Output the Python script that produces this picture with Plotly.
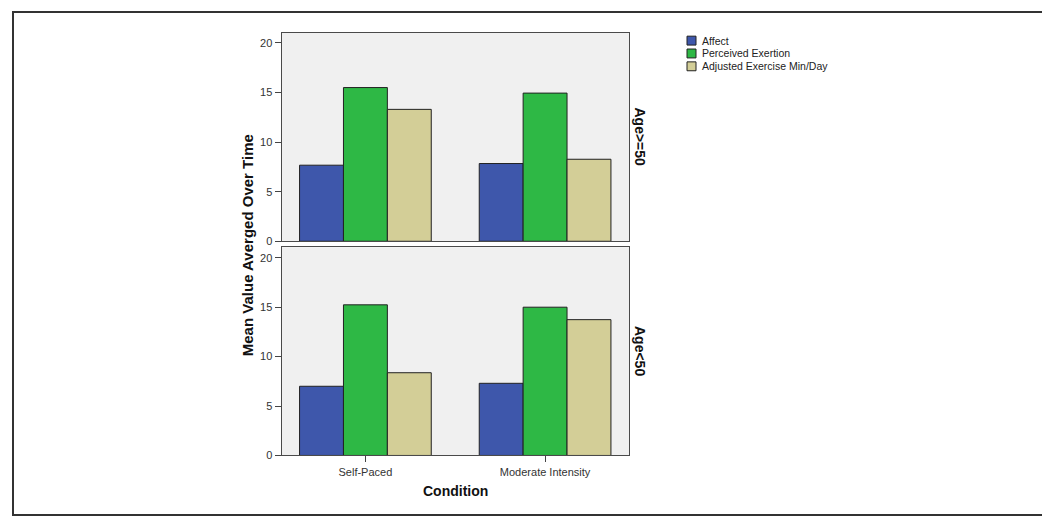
import plotly.graph_objects as go

W, H = 1050, 518

conditions = ["Self-Paced", "Moderate Intensity"]
series_names = ["Affect", "Perceived Exertion", "Adjusted Exercise Min/Day"]
facet_labels = ["Age>=50", "Age<50"]

# values per facet (rows) -> per series
affect_age_ge50 = [7.67, 7.84]
exertion_age_ge50 = [15.5, 14.94]
minutes_age_ge50 = [13.3, 8.27]

affect_age_lt50 = [7.0, 7.3]
exertion_age_lt50 = [15.24, 15.0]
minutes_age_lt50 = [8.37, 13.74]

y_ticks = [0, 5, 10, 15, 20]

colors = ["#3e57ab", "#2eb845", "#d3ce97"]

def px_x(p):
    return p / W

def px_y(p):
    return 1 - p / H

fig = go.Figure()

facets = [
    [affect_age_ge50, exertion_age_ge50, minutes_age_ge50],
    [affect_age_lt50, exertion_age_lt50, minutes_age_lt50],
]
axes = [("x", "y"), ("x2", "y2")]
for fi, vals in enumerate(facets):
    xa, ya = axes[fi]
    for si, name in enumerate(series_names):
        fig.add_trace(go.Bar(
            x=conditions, y=vals[si], name=name,
            marker=dict(color=colors[si], line=dict(color="#222222", width=1)),
            xaxis=xa, yaxis=ya, showlegend=False,
            offsetgroup=str(si),
        ))

x_dom = [px_x(273.5), px_x(621)]
axis_common = dict(
    showline=True, linecolor="#4a4a4a", linewidth=1, mirror=True,
    showgrid=False, zeroline=False,
    ticks="outside", ticklen=6, tickcolor="#444444",
    tickfont=dict(family="Liberation Sans, Arial", size=11, color="#333333"),
)

fig.update_layout(
    width=W, height=H,
    margin=dict(l=0, r=0, t=0, b=0),
    paper_bgcolor="white",
    plot_bgcolor="#f0f0f0",
    barmode="group", bargap=0.267, bargroupgap=0,
    font=dict(family="Liberation Sans, Arial", color="#222222"),
    xaxis=dict(domain=x_dom, anchor="y", range=[-0.467, 1.467],
               showticklabels=False, **{k: v for k, v in axis_common.items() if k not in ("ticks",)}, ticks=""),
    yaxis=dict(domain=[px_y(236), px_y(25)], anchor="x", range=[0, 21.03],
               tickvals=y_ticks, **axis_common),
    xaxis2=dict(domain=x_dom, anchor="y2", range=[-0.467, 1.467], **axis_common),
    yaxis2=dict(domain=[px_y(452.7), px_y(242)], anchor="x2", range=[0, 21.07],
                tickvals=y_ticks, **axis_common),
)

annotations = [
    dict(text="<b>Mean Value Averged Over Time</b>", x=px_x(239), y=px_y(240),
         xref="paper", yref="paper", textangle=-90, showarrow=False,
         font=dict(size=15, color="#111111"), xanchor="center", yanchor="middle"),
    dict(text="<b>Condition</b>", x=px_x(447), y=px_y(489),
         xref="paper", yref="paper", showarrow=False,
         font=dict(size=14, color="#111111"), xanchor="center", yanchor="middle"),
    dict(text="<b>" + facet_labels[0] + "</b>", x=px_x(632), y=px_y(130),
         xref="paper", yref="paper", textangle=90, showarrow=False,
         font=dict(size=14, color="#111111"), xanchor="center", yanchor="middle"),
    dict(text="<b>" + facet_labels[1] + "</b>", x=px_x(632), y=px_y(347),
         xref="paper", yref="paper", textangle=90, showarrow=False,
         font=dict(size=14, color="#111111"), xanchor="center", yanchor="middle"),
]

shapes = [
    dict(type="rect", xref="paper", yref="paper",
         x0=px_x(5), x1=px_x(1044), y0=px_y(513), y1=px_y(4),
         line=dict(color="#333333", width=2), fillcolor="rgba(0,0,0,0)"),
]

legend_rows = [33, 46, 59]
for i, name in enumerate(series_names):
    yc = legend_rows[i]
    shapes.append(dict(type="rect", xref="paper", yref="paper",
                       x0=px_x(679), x1=px_x(688), y0=px_y(yc + 4.5), y1=px_y(yc - 4.5),
                       fillcolor=colors[i], line=dict(color="#222222", width=1)))
    annotations.append(dict(text=name, x=px_x(691.5), y=px_y(yc), xref="paper", yref="paper",
                            showarrow=False, xanchor="left", yanchor="middle",
                            font=dict(size=10.5, color="#222222")))

fig.update_layout(annotations=annotations, shapes=shapes)

fig.write_html("out.html")
